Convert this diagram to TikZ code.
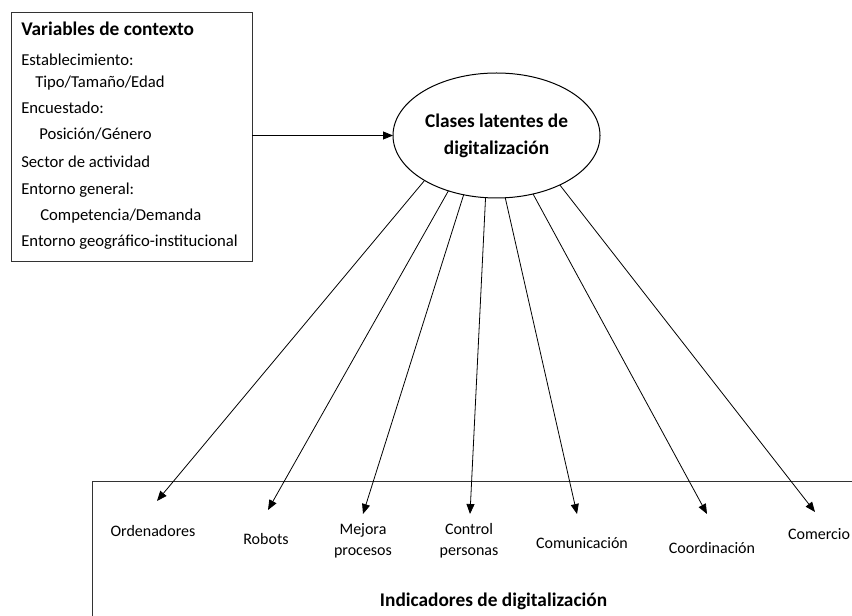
\documentclass[tikz,border=0pt]{standalone}
\usepackage{fontspec}
\setmainfont{Carlito}
\usetikzlibrary{arrows.meta,shapes.geometric}
\begin{document}
\begin{tikzpicture}[x=0.75pt,y=-0.75pt,
  box/.style={draw=black!80,line width=0.75pt,inner sep=0,outer sep=0},
  ctxline/.style={anchor=mid west,inner sep=0,font=\fontsize{12.5}{15}\selectfont},
  ttl/.style={inner sep=0,align=center,font=\fontsize{14.5}{20}\selectfont\bfseries},
  lbl/.style={inner sep=0,align=center,font=\fontsize{12}{15.75}\selectfont},
  arr/.style={draw,line width=0.6pt,-{Triangle[length=7.5pt,width=6pt]}}]
\useasboundingbox (0,0) rectangle (852,616);
\clip (0,0) rectangle (852,616);
% context box
\node[box,anchor=north west,minimum width=180.75pt,minimum height=186.75pt] (ctx) at (11,13) {};
\node[ttl,anchor=mid west] (ctxt) at (21,32) {Variables de contexto};
\node[ctxline] (c1) at (21,62) {Establecimiento:};
\node[ctxline] (c2) at (35,84) {Tipo/Tamaño/Edad};
\node[ctxline] (c3) at (21,110) {Encuestado:};
\node[ctxline] (c4) at (39,136) {Posición/Género};
\node[ctxline] (c5) at (21,164) {Sector de actividad};
\node[ctxline] (c6) at (21,191) {Entorno general:};
\node[ctxline] (c7) at (40,217) {Competencia/Demanda};
\node[ctxline] (c8) at (21,243) {Entorno geográfico-institucional};
% latent classes ellipse
\node[ellipse,draw,line width=0.75pt,minimum width=155.25pt,minimum height=93.75pt,inner sep=0,outer sep=0] (ellb) at (496.5,135.5) {};
\node[ttl] (ell) at (496.5,136) {Clases latentes de\\digitalización};
\draw[arr] (ctx.east |- ellb.west) -- (ellb.west);
% indicators box
\node[box,anchor=north west,minimum width=591pt,minimum height=134.25pt] (ind) at (92,481) {};
\node[ttl] (indt) at (493.5,601) {Indicadores de digitalización};
% tip coordinates
\coordinate (t1) at (157,501);
\coordinate (t2) at (268,510);
\coordinate (t3) at (363,514);
\coordinate (t4) at (470,514);
\coordinate (t5) at (577,514);
\coordinate (t6) at (707,514);
\coordinate (t7) at (815,512);
\draw[arr] (ellb.212) -- (t1);
\draw[arr] (ellb.229) -- (t2);
\draw[arr] (ellb.241.4) -- (t3);
\draw[arr] (ellb.260.8) -- (t4);
\draw[arr] (ellb.278.5) -- (t5);
\draw[arr] (ellb.302.9) -- (t6);
\draw[arr] (ellb.322.2) -- (t7);
% labels
\node[lbl] (ord) at (153,531) {Ordenadores};
\node[lbl] (rob) at (266,539) {Robots};
\node[lbl] (mej) at (363,541) {Mejora\\procesos};
\node[lbl] (con) at (469,541) {Control\\personas};
\node[lbl] (com) at (582,543) {Comunicación};
\node[lbl] (coo) at (712,548) {Coordinación};
\node[lbl] (cme) at (819,534) {Comercio};
\end{tikzpicture}
\end{document}
